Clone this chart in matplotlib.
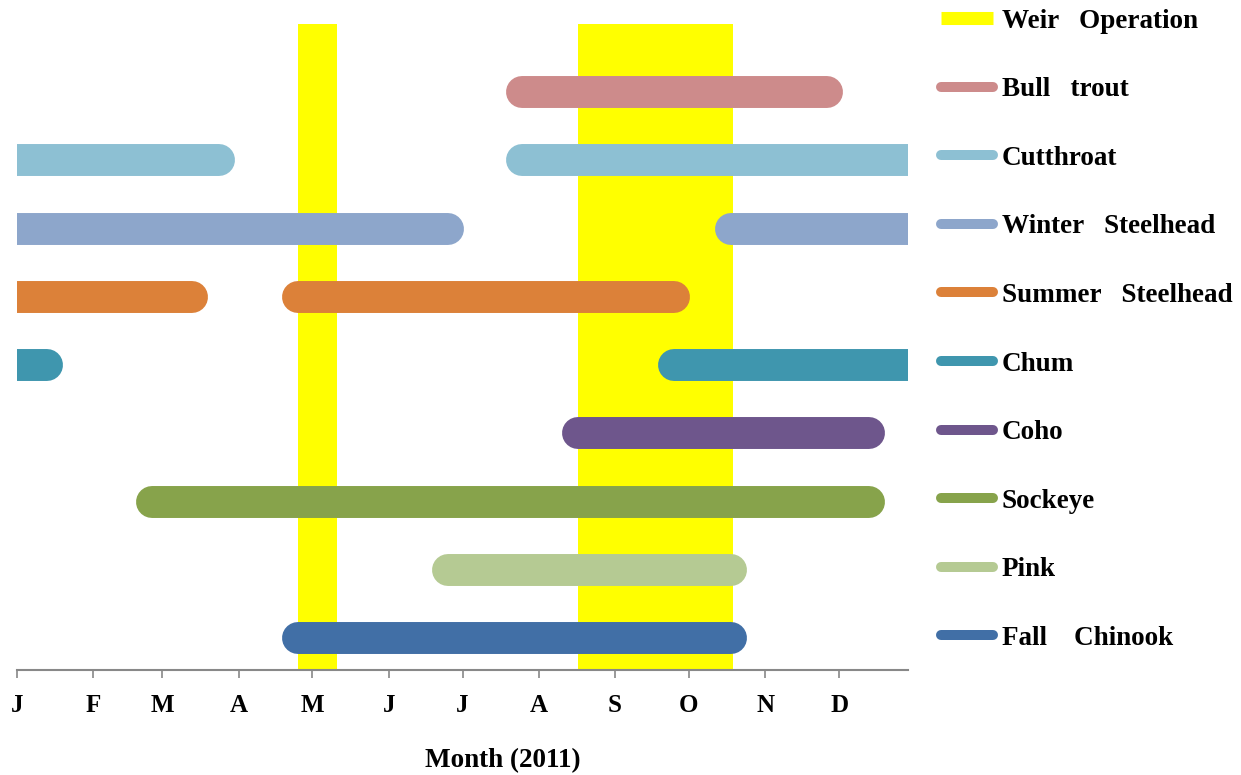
import numpy as np
import matplotlib.pyplot as plt
import matplotlib.dates as mdates
from matplotlib.lines import Line2D

# species rows (top to bottom) and their run periods in 2011
species = ["Bull   trout", "Cutthroat", "Winter   Steelhead", "Summer   Steelhead",
           "Chum", "Coho", "Sockeye", "Pink", "Fall    Chinook"]
colors = ["#CD8B8B", "#8DC0D3", "#8DA6CB", "#DC8139", "#3F96AE",
          "#6E568C", "#87A34B", "#B5CA93", "#416FA6"]
periods = [
    [("2011-07-25", "2011-11-26")],
    [("2011-01-01", "2011-03-24"), ("2011-07-25", "2012-01-01")],
    [("2011-01-01", "2011-06-25"), ("2011-10-18", "2012-01-01")],
    [("2011-01-01", "2011-03-13"), ("2011-04-25", "2011-09-25")],
    [("2011-01-01", "2011-01-13"), ("2011-09-25", "2012-01-01")],
    [("2011-08-17", "2011-12-13")],
    [("2011-02-25", "2011-12-13")],
    [("2011-06-25", "2011-10-18")],
    [("2011-04-25", "2011-10-18")],
]
weir = [("2011-04-25", "2011-05-11"), ("2011-08-17", "2011-10-19")]
month_labels = ["J", "F", "M", "A", "M", "J", "J", "A", "S", "O", "N", "D"]

plt.rcParams['font.family'] = 'Liberation Serif'
plt.rcParams['font.weight'] = 'bold'

fig = plt.figure(figsize=(12.41, 7.75), dpi=100)
ax = fig.add_axes([17/1241, 105/775, 891/1241, 646/775])

d = lambda s: mdates.date2num(np.datetime64(s))

for a, b in weir:
    ax.axvspan(d(a), d(b), color="#FFFF00", lw=0, zorder=1)

n = len(species)
for i, (name, c, segs) in enumerate(zip(species, colors, periods)):
    y = n - i
    for a, b in segs:
        ax.plot([d(a), d(b)], [y, y], color=c, lw=23, solid_capstyle='round', zorder=2)

ax.set_xlim(d("2011-01-01"), d("2011-12-29"))
ax.set_ylim(0.53, 10)
ticks = [d(f"2011-{m:02d}-01") for m in range(1, 13)]
ax.set_xticks(ticks)
ax.set_xticklabels(month_labels, fontsize=18, fontweight='bold')
ax.set_yticks([])
for s in ["top", "right", "left"]:
    ax.spines[s].set_visible(False)
ax.spines["bottom"].set_color("#888888")
ax.spines["bottom"].set_linewidth(1.5)
ax.tick_params(axis='x', colors="#888888", length=6, width=1.2, pad=11, labelcolor="black")

ax.set_xlabel("Month (2011)", fontsize=19.5, fontweight='bold')
ax.xaxis.set_label_coords((503 - 17) / 891, -0.121)

handles = [Line2D([], [], color="#FFFF00", lw=9.4, solid_capstyle='butt')]
handles += [Line2D([], [], color=c, lw=7.2, solid_capstyle='round') for c in colors]
labels = ["Weir   Operation"] + species
leg = fig.legend(handles, labels, loc="upper left", bbox_to_anchor=(941/1241, 0.989),
                 frameon=False, fontsize=19.5, labelspacing=1.61, handlelength=1.92,
                 handletextpad=0.33, borderaxespad=0.0, borderpad=0.0)

fig.savefig("out.png", dpi=100)
